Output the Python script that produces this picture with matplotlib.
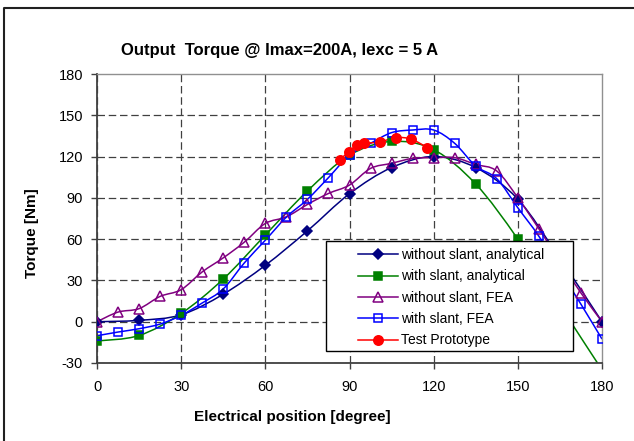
import numpy as np
import matplotlib
matplotlib.use("Agg")
import matplotlib.pyplot as plt
from matplotlib.path import Path
from matplotlib.patches import PathPatch, Rectangle
from matplotlib.lines import Line2D

plt.rcParams['font.family'] = ['Liberation Sans', 'DejaVu Sans']
plt.rcParams['axes.unicode_minus'] = False

# positions (degres electriques)
pos_15 = [0, 15, 30, 45, 60, 75, 90, 105, 120, 135, 150, 165, 180]
pos_7_5 = [0, 7.5, 15, 22.5, 30, 37.5, 45, 52.5, 60, 67.5, 75, 82.5, 90,
           97.5, 105, 112.5, 120, 127.5, 135, 142.5, 150, 157.5, 165, 172.5, 180]
pos_test = [86.5, 89.7, 92.7, 95.1, 100.7, 106.7, 112.0, 117.8]

# couple [Nm]
sans_incl_analytique = [0, 1, 5, 20, 41, 66, 93, 112, 120, 112, 89, 46, 0]
avec_incl_analytique = [-14, -10, 6, 31, 63, 95, 121, 131, 125, 100, 60, 12, -35]
sans_incl_fea = [0, 7, 9.5, 18.4, 23.3, 36.2, 46.4, 57.8, 71.4, 76.2, 85.2, 93.2, 99.3,
                 111.4, 115.1, 118.7, 119.2, 119.2, 114.3, 109.5, 90.1, 67.5, 44, 20.9, 0]
avec_incl_fea = [-10.2, -7.5, -5.1, -1.7, 4.6, 13.6, 23.8, 42.7, 59.2, 76, 88.9, 104.7, 121,
                 129.6, 137.4, 139.3, 139.3, 129.6, 113.1, 103.9, 82.8, 62.1, 37, 12.7, -12.6]
prototype = [117.3, 123.6, 128.4, 129.6, 130.6, 133.8, 132.6, 126.5]

noms = ["without slant, analytical", "with slant, analytical",
        "without slant, FEA", "with slant, FEA", "Test Prototype"]


def chemin_lisse(x, y):
    # courbe lissee type Excel (Catmull-Rom -> Bezier)
    pts = np.column_stack([x, y]).astype(float)
    n = len(pts)
    verts = [pts[0]]
    codes = [Path.MOVETO]
    for i in range(n - 1):
        p0 = pts[max(i - 1, 0)]
        p1 = pts[i]
        p2 = pts[i + 1]
        p3 = pts[min(i + 2, n - 1)]
        verts += [p1 + (p2 - p0) / 6, p2 - (p3 - p1) / 6, p2]
        codes += [Path.CURVE4] * 3
    return Path(verts, codes)


series = [
    (pos_15, sans_incl_analytique, '#000080', 'D', 5.0, True),
    (pos_15, avec_incl_analytique, '#008000', 's', 6.0, True),
    (pos_7_5, sans_incl_fea, '#800080', '^', 7.5, False),
    (pos_7_5, avec_incl_fea, '#0000ff', 's', 6.2, False),
    (pos_test, prototype, '#ff0000', 'o', 6.8, True),
]

fig = plt.figure(figsize=(6.34, 4.41), dpi=100)
ax = fig.add_axes([97 / 634, 1 - 363 / 441, 505 / 634, 289 / 441])

poignees = []
for (x, y, c, m, ms, plein), nom in zip(series, noms):
    ax.add_patch(PathPatch(chemin_lisse(x, y), fill=False, edgecolor=c, lw=1.1, zorder=2))
    fc = c if plein else 'none'
    ax.plot(x, y, linestyle='none', marker=m, markersize=ms, markerfacecolor=fc,
            markeredgecolor=c, markeredgewidth=1.1, zorder=3)
    poignees.append(Line2D([], [], color=c, lw=1.1, marker=m, markersize=ms,
                           markerfacecolor=fc, markeredgecolor=c, markeredgewidth=1.1))

ax.set_xlim(0, 180)
ax.set_ylim(-30, 180)
ax.set_xticks(range(0, 181, 30))
ax.set_yticks(range(-30, 181, 30))
ax.grid(True, linestyle=(0, (6, 3)), color='#404040', lw=0.9)
ax.xaxis.get_gridlines()[-1].set_visible(False)
ax.yaxis.get_gridlines()[-1].set_visible(False)
ax.set_axisbelow(True)

for s in ['left', 'bottom']:
    ax.spines[s].set_color('#404040')
    ax.spines[s].set_linewidth(1.3)
for s in ['top', 'right']:
    ax.spines[s].set_color('#909090')
    ax.spines[s].set_linewidth(1.0)
ax.tick_params(direction='out', length=4, width=1, color='#404040', labelsize=10.5)
ax.tick_params(axis='x', pad=8)
ax.tick_params(axis='y', pad=6)

fig.text(280 / 634, 1 - 54.5 / 441, "Output  Torque @ Imax=200A, Iexc = 5 A",
         ha='center', va='baseline', fontsize=12, fontweight='bold')
fig.text(292 / 634, 1 - 421.5 / 441, "Electrical position [degree]",
         ha='center', va='baseline', fontsize=11, fontweight='bold')
fig.text(32 / 634, 1 - 233 / 441, "Torque [Nm]", rotation=90,
         ha='center', va='center', fontsize=11, fontweight='bold')

# cadre de la legende
ax.add_patch(Rectangle((326 / 634, 1 - 351 / 441), 247 / 634, 110.5 / 441,
                       transform=fig.transFigure, facecolor='white', edgecolor='black',
                       lw=1.0, zorder=4, clip_on=False))
ax.legend(poignees, noms, loc='upper left', bbox_to_anchor=(358 / 634, 1 - 248 / 441),
          bbox_transform=fig.transFigure, frameon=False, borderpad=0, borderaxespad=0,
          fontsize=10, handlelength=2.85, handletextpad=0.25, labelspacing=0.53)

# cadre du graphique
fig.add_artist(Line2D([4 / 634, 4 / 634, 1], [0, 1 - 8 / 441, 1 - 8 / 441],
                      transform=fig.transFigure, color='#202020', lw=1.5))

fig.savefig("out.png", dpi=100)
